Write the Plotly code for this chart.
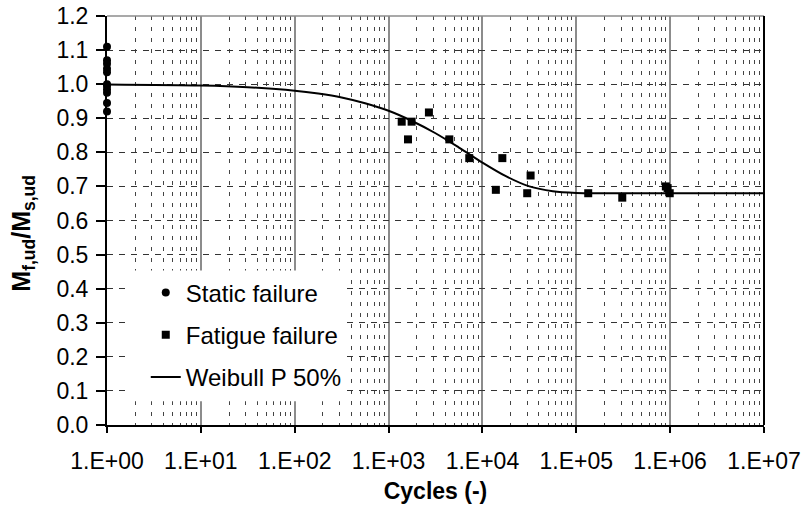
import plotly.graph_objects as go

# Static failure tests (all at N = 1 cycle)
static_cycles = [1, 1, 1, 1, 1, 1, 1, 1, 1, 1, 1]
static_ratio = [1.11, 1.07, 1.06, 1.045, 1.035, 1.0, 0.995, 0.985, 0.975, 0.945, 0.92]

# Fatigue failure tests
fatigue_cycles = [1380, 1760, 2690, 1610, 4440, 7240, 16300, 13900, 32600, 30000,
                  134000, 309000, 900000, 940000, 990000]
fatigue_ratio = [0.89, 0.89, 0.917, 0.838, 0.838, 0.783, 0.783, 0.69, 0.732, 0.68,
                 0.68, 0.667, 0.70, 0.695, 0.68]

# Weibull P 50% curve
weibull_cycles = [1, 10, 31.6, 100, 178, 316, 562, 1000, 1778, 3162, 5623, 10000,
                  17783, 31623, 56234, 100000, 177828, 316228, 1000000, 10000000]
weibull_ratio = [0.999, 0.996, 0.991, 0.981, 0.9725, 0.961, 0.944, 0.922, 0.892, 0.856,
                 0.814, 0.77, 0.730, 0.70, 0.686, 0.681, 0.680, 0.68, 0.68, 0.68]

# Axis ticks
x_tickvals = [1, 10, 100, 1000, 10000, 100000, 1000000, 10000000]
x_ticktext = ["1.E+00", "1.E+01", "1.E+02", "1.E+03", "1.E+04", "1.E+05", "1.E+06", "1.E+07"]
x_minor = [m * d for d in x_tickvals[:-1] for m in range(2, 10)]

FONT = "Liberation Sans, Arial, sans-serif"

fig = go.Figure()

fig.add_trace(go.Scatter(
    x=static_cycles, y=static_ratio, mode="markers", name="Static failure",
    marker=dict(symbol="circle", size=8, color="black"),
    cliponaxis=False, legendgroup="a",
))
fig.add_trace(go.Scatter(
    x=fatigue_cycles, y=fatigue_ratio, mode="markers", name="Fatigue failure",
    marker=dict(symbol="square", size=8, color="black"),
    cliponaxis=False, legendgroup="b",
))
fig.add_trace(go.Scatter(
    x=weibull_cycles, y=weibull_ratio, mode="lines", name="Weibull P 50%",
    line=dict(color="black", width=2, shape="spline", smoothing=0.8),
    legendgroup="c",
))

fig.update_layout(
    width=803, height=510,
    margin=dict(l=107, r=39, t=16, b=85, autoexpand=False),
    paper_bgcolor="white", plot_bgcolor="white",
    font=dict(family=FONT, size=23, color="black"),
    showlegend=True,
    legend=dict(
        x=0.059, y=0.378, xanchor="left", yanchor="top",
        bgcolor="rgba(0,0,0,0)", borderwidth=0,
        font=dict(family=FONT, size=24, color="black"),
        traceorder="grouped", tracegroupgap=8,
    ),
    xaxis=dict(
        type="log", range=[0, 7], automargin=False,
        tickmode="array", tickvals=x_tickvals, ticktext=x_ticktext,
        ticks="outside", ticklen=6, tickwidth=1.5, tickcolor="black",
        ticklabelstandoff=8,
        showline=True, linecolor="black", linewidth=2,
        showgrid=True, gridcolor="#8c8c8c", gridwidth=1.5,
        minor=dict(tickmode="array", tickvals=x_minor, showgrid=True,
                   gridcolor="#444444", gridwidth=1, griddash="4px,7px", ticks=""),
        zeroline=False,
        title=dict(text="<b>Cycles (-)</b>", font=dict(family=FONT, size=23), standoff=10),
    ),
    yaxis=dict(
        range=[0, 1.2], dtick=0.1, tick0=0, tickformat=".1f", automargin=False,
        ticks="outside", ticklen=9, tickwidth=1.5, tickcolor="black",
        ticklabelstandoff=3,
        showline=True, linecolor="black", linewidth=2,
        showgrid=True, gridcolor="#333333", gridwidth=1, griddash="6px,6px",
        zeroline=False,
    ),
    annotations=[dict(
        text="<b>M<sub>f,ud</sub>/M<sub>s,ud</sub></b>",
        xref="paper", yref="paper", x=-0.128, y=0.47,
        xanchor="center", yanchor="middle", textangle=-90, showarrow=False,
        font=dict(family=FONT, size=25, color="black"),
    )],
    shapes=[
        # white panel behind the legend, hiding the grid there
        dict(type="rect", xref="paper", yref="paper", x0=0.03, x1=0.357, y0=0.058, y1=0.378,
             fillcolor="white", line=dict(width=0), layer="above"),
        # plot frame: top and right edges
        dict(type="line", xref="paper", yref="paper", x0=0, x1=1, y0=1, y1=1,
             line=dict(color="#8c8c8c", width=1.5)),
        dict(type="line", xref="paper", yref="paper", x0=1, x1=1, y0=0, y1=1,
             line=dict(color="black", width=2)),
    ],
)

fig.write_html("out.html")
